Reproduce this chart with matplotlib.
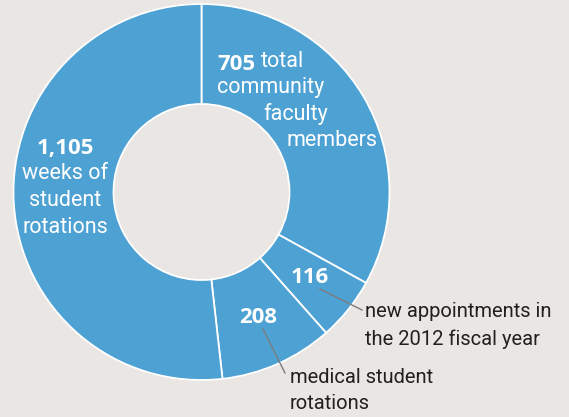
import matplotlib
matplotlib.use('Agg')
import matplotlib.pyplot as plt
from matplotlib import font_manager

W, H = 569, 417

# slice values, clockwise from 12 o'clock
values = [705, 116, 208, 1105]
numbers = ['705', '116', '208', '1,105']

BLUE = '#4ea1d3'
BG = '#e9e6e3'
GREY = '#7d7d7d'

names = {f.name for f in font_manager.fontManager.ttflist}
narrow = 'Roboto' if 'Roboto' in names else 'DejaVu Sans'
bold = 'Open Sans' if 'Open Sans' in names else 'DejaVu Sans'

fig = plt.figure(figsize=(W / 100, H / 100), dpi=100, facecolor=BG)
ax = fig.add_axes([0, 0, 1, 1])
ax.set_facecolor(BG)

# donut
ax.pie(values, colors=[BLUE] * len(values), startangle=90, counterclock=False,
       center=(201.5, H - 192), radius=188, frame=True,
       wedgeprops=dict(width=100, edgecolor='white', linewidth=1.3))
ax.set_xlim(0, W)
ax.set_ylim(0, H)
ax.set_aspect('equal')
ax.axis('off')


def txt(x, y, s, color='white', ha='left', weight='normal', size=15.5, fam=None):
    ax.text(x, H - y, s, color=color, ha=ha, va='baseline',
            fontsize=size, fontweight=weight, family=fam or narrow)


# 705 slice
txt(217, 70, numbers[0], weight='bold', size=16, fam=bold)
txt(261, 67, 'total')
txt(217, 93, 'community')
txt(263, 120, 'faculty')
txt(287, 146, 'members')

# 1,105 slice
txt(65, 154, numbers[3], ha='center', weight='bold', size=16, fam=bold)
txt(65, 179, 'weeks of', ha='center')
txt(65, 206, 'student', ha='center')
txt(65, 233, 'rotations', ha='center')

# small slices
txt(310, 283, numbers[1], ha='center', weight='bold', size=16, fam=bold)
txt(258, 323, numbers[2], ha='center', weight='bold', size=16, fam=bold)

# leader lines and outside labels
ax.plot([320, 362], [H - 289, H - 310], color=GREY, lw=1)
ax.plot([263, 285], [H - 329, H - 373], color=GREY, lw=1)
txt(365, 317, 'new appointments in', color='#231f20', size=14.5)
txt(365, 345, 'the 2012 fiscal year', color='#231f20', size=14.5)
txt(290, 383, 'medical student', color='#231f20', size=14.5)
txt(290, 409, 'rotations', color='#231f20', size=14.5)

fig.savefig('out.png', dpi=100, facecolor=BG)
